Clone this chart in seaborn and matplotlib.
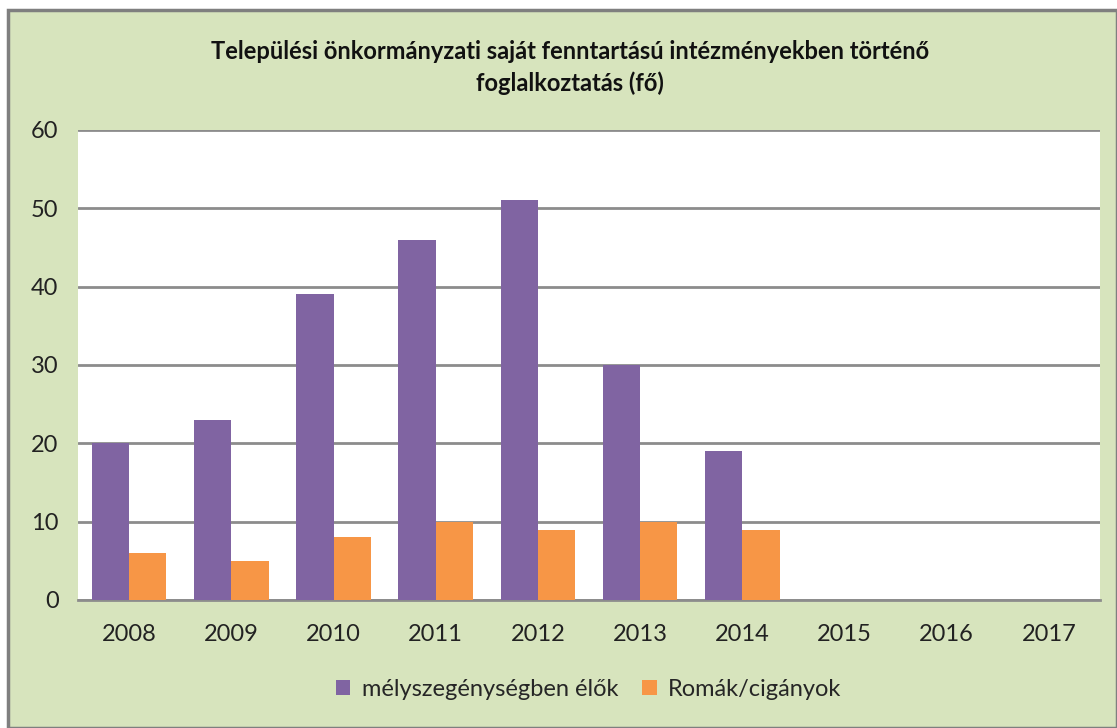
import matplotlib.pyplot as plt
import seaborn as sns
import pandas as pd
import numpy as np
from matplotlib.patches import Rectangle

years = ['2008', '2009', '2010', '2011', '2012', '2013', '2014', '2015', '2016', '2017']
melyszegeny = [20, 23, 39, 46, 51, 30, 19, np.nan, np.nan, np.nan]
romak = [6, 5, 8, 10, 9, 10, 9, np.nan, np.nan, np.nan]
series = ['mélyszegénységben élők', 'Romák/cigányok']
colors = ['#8064a2', '#f79646']

df = pd.DataFrame({
    'ev': years * 2,
    'fo': melyszegeny + romak,
    'csoport': [series[0]] * len(years) + [series[1]] * len(years),
})

sns.set_style('white')
plt.rcParams['font.family'] = ['Lato', 'DejaVu Sans']

fig = plt.figure(figsize=(11.17, 7.28), dpi=100)
fig.patch.set_facecolor('white')
# green chart area with grey border
fig.patches.append(Rectangle((8 / 1117, 0), 1 - 8 / 1117, 1 - 10 / 728,
                             transform=fig.transFigure, facecolor='#d7e4bd',
                             edgecolor='#7f7f7f', linewidth=2.5, zorder=-10))

ax = fig.add_axes([78 / 1117, 128 / 728, 1022 / 1117, 470 / 728])
sns.barplot(data=df, x='ev', y='fo', hue='csoport', order=years, hue_order=series,
            palette=colors, width=0.73, saturation=1, ax=ax, errorbar=None,
            linewidth=0, zorder=3)

ax.set_facecolor('white')
ax.set_ylim(0, 60)
ax.set_yticks(range(0, 61, 10))
ax.yaxis.grid(True, color='#8c8c8c', linewidth=2, zorder=0)
ax.set_axisbelow(True)
for s in ['top', 'right', 'left']:
    ax.spines[s].set_visible(False)
ax.spines['bottom'].set_color('#8c8c8c')
ax.spines['bottom'].set_linewidth(2)
ax.tick_params(axis='both', length=0, labelsize=17, colors='#222222')
ax.tick_params(axis='x', pad=17)
ax.tick_params(axis='y', pad=14)
ax.set_xlabel('')
ax.set_ylabel('')

fig.text(0.51, 0.907, 'Települési önkormányzati saját fenntartású intézményekben történő\nfoglalkoztatás (fő)',
         ha='center', va='center', fontsize=17, fontweight='bold', linespacing=1.45, color='#111111')

ax.legend(loc='center', bbox_to_anchor=(0.5, -0.19), ncol=2, frameon=False,
          fontsize=17, handlelength=0.6, handleheight=0.6, columnspacing=1.0, handletextpad=0.5)

fig.savefig('out.png', dpi=100)
